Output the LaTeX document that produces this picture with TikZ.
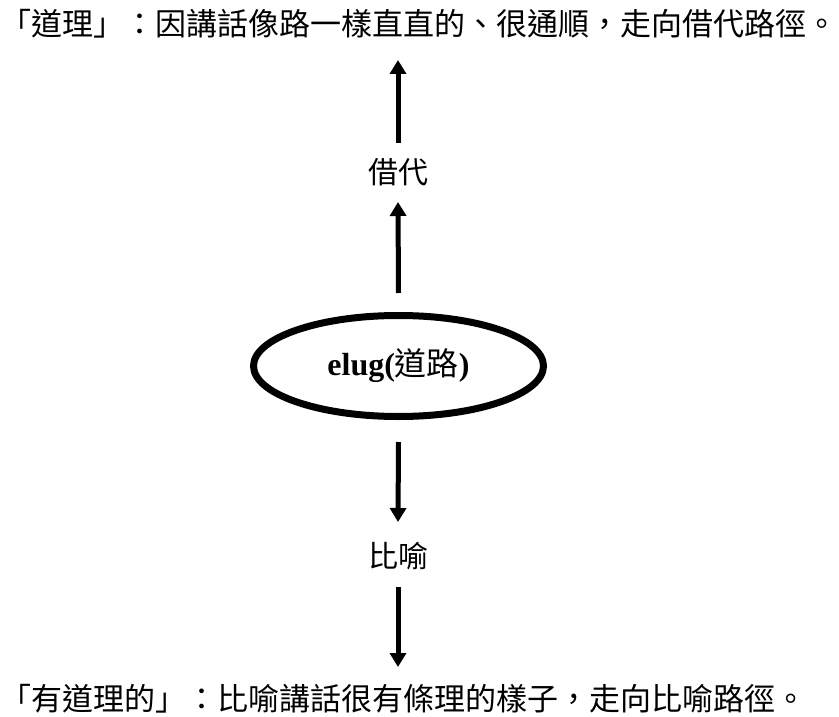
\documentclass[tikz,border=0pt]{standalone}
\usepackage{fontspec}
\setmainfont{Liberation Serif}
\newfontfamily\cjk{Noto Sans CJK TC}
\usetikzlibrary{arrows.meta,shapes.geometric}
\tikzset{
  cjktext/.style={font=\cjk\fontsize{31pt}{35pt}\selectfont, inner sep=0pt, text=black},
  labeltext/.style={font=\cjk\fontsize{30pt}{34pt}\selectfont, inner sep=0pt, text=black},
  bigarrow/.style={line width=5pt, -{Triangle[width=16pt,length=14pt]}},
  centre/.style={ellipse, draw, line width=7pt, minimum width=290pt, minimum height=101pt, inner sep=0pt}
}
\begin{document}
\begin{tikzpicture}[x=1pt,y=-1pt]
\useasboundingbox (0,0) rectangle (839,717);
\node[cjktext, anchor=west] (top) at (0,24) {「道理」：因講話像路一樣直直的、很通順，走向借代路徑。};
\node[cjktext, anchor=west] (bottom) at (0,699) {「有道理的」：比喻講話很有條理的樣子，走向比喻路徑。};
\node[centre] (core) at (398.5,366) {\fontsize{32pt}{36pt}\selectfont\textbf{elug(}{\cjk 道路}\textbf{)}};
\node[labeltext] (jiedai) at (398,172) {借代};
\node[labeltext] (biyu) at (398,556) {比喻};
\coordinate (t1) at (398,60);
\coordinate (t2) at (398,202);
\coordinate (b1) at (398,522);
\coordinate (b2) at (398,667);
\draw[bigarrow] (jiedai.north |- 0,143) -- (t1);
\draw[bigarrow] (core.north |- 0,293) -- (t2);
\draw[bigarrow] (core.south |- 0,442) -- (b1);
\draw[bigarrow] (biyu.south |- 0,587) -- (b2);
\end{tikzpicture}
\end{document}
